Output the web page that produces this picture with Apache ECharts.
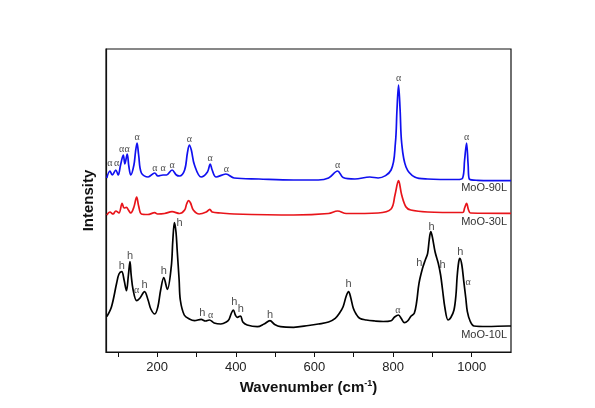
<!DOCTYPE html>
<html>
<head>
<meta charset="utf-8">
<script src="https://cdn.jsdelivr.net/npm/echarts@6/dist/echarts.min.js"></script>
<style>
  html, body { margin: 0; padding: 0; background: #fff; }
  #chart { width: 595px; height: 408px; }
</style>
</head>
<body>
<div id="chart"></div>
<script>
// x ticks / labels
const tickValues = [100, 200, 300, 400, 500, 600, 700, 800, 900, 1000]
const labelValues = [200, 400, 600, 800, 1000]

// [wavenumber, intensity]
const moo90 = [
  [72, 174], [80, 181], [86, 177], [95, 182], [101, 177], [107, 187], [114, 197], [118, 188],
  [124, 198], [128, 186], [133, 177], [141, 187], [145, 200], [149, 209], [153, 197], [160, 179],
  [177, 175], [194, 179], [202, 176], [215, 177], [224, 177], [238, 182], [249, 177], [257, 176],
  [270, 182], [277, 199], [282, 207], [287, 202], [295, 187], [312, 175], [328, 180], [335, 188],
  [340, 182], [350, 175], [375, 178], [396, 174], [459, 173], [547, 172], [610, 172], [636, 174],
  [659, 181], [673, 174.5], [703, 173], [741, 175], [762, 174], [795, 182], [806, 209], [810, 242],
  [814, 267], [818, 242], [822, 209], [833, 185], [855, 175], [888, 173], [964, 172.5], [977, 174],
  [982, 192], [987, 209], [991, 187], [994, 173], [1015, 171.7], [1093, 171.3], [1100, 171.3]
]
const moo30 = [
  [72, 137], [80, 140], [88, 138], [95, 141], [103, 139], [111, 148.7], [116, 144], [122, 144.7],
  [127, 142], [133, 139], [141, 145], [148, 155], [153, 146], [160, 138], [176, 137.5], [194, 139.3],
  [201, 138], [219, 138.5], [238, 140.3], [257, 138.5], [270, 142], [275, 148], [280, 151.3],
  [285, 149], [292, 142], [307, 138], [325, 140], [334, 142.7], [340, 140], [362, 139], [396, 138],
  [547, 137], [636, 138.5], [659, 141], [681, 138.5], [762, 139], [795, 143], [805, 157], [814, 171.3],
  [822, 157], [833, 145], [845, 142], [888, 140], [977, 139.5], [982, 144], [987, 148.7], [992, 142],
  [997, 139], [1093, 138.7], [1100, 138.7]
]
const moo10 = [
  [72, 35.3], [84, 45.3], [97, 68.7], [103, 78], [110, 80.3], [116, 72], [122, 61.3], [127, 77],
  [131, 90.3], [134, 77], [139, 62], [148, 51.3], [156, 53.7], [168, 60.3], [177, 52], [184, 43],
  [194, 38], [202, 45.3], [209, 62], [217, 74.3], [226, 62.7], [236, 85.3], [240, 112], [244, 129.3],
  [248, 120], [251, 102], [256, 72], [259, 52], [269, 37], [282, 33], [295, 31.3], [312, 32.7],
  [323, 31], [333, 32], [345, 29], [362, 28], [376, 30], [383, 32.7], [389, 39], [394, 42], [399, 37],
  [404, 34.7], [412, 36], [418, 30], [429, 27], [455, 25.3], [472, 28], [487, 31.3], [499, 27.5],
  [514, 25.3], [547, 24.7], [585, 26.5], [610, 28], [636, 30], [653, 33.7], [664, 39], [673, 45.3],
  [681, 56], [687, 60.3], [692, 55], [699, 43.7], [706, 38], [715, 33.7], [732, 32], [754, 31],
  [775, 30.5], [795, 31.3], [804, 35], [814, 37], [821, 33.5], [829, 29.3], [837, 31], [846, 36],
  [854, 38.7], [860, 50], [866, 68.7], [875, 83.7], [882, 92], [888, 98.7], [892, 112], [896, 120.3],
  [900, 115], [907, 100], [915, 88.7], [921, 77], [926, 62], [932, 44], [940, 32], [947, 34.5],
  [955, 42], [960, 57], [963, 75.3], [967, 90], [970, 93.7], [975, 87], [980, 70.3], [985, 54],
  [989, 40.3], [996, 31], [1006, 26], [1039, 25.5], [1093, 26], [1100, 26]
]

// peak marks [wavenumber, intensity, text]
const peaks90 = [
  [80, 188.7, 'α'], [97, 188.7, 'α'], [110, 203, 'α'], [124, 203, 'α'], [149, 214.7, 'α'],
  [194, 183.7, 'α'], [215, 183.7, 'α'], [238, 187, 'α'], [282, 213, 'α'], [335, 193.7, 'α'],
  [376, 182.7, 'α'], [659, 187, 'α'], [814, 273.7, 'α'], [987, 214.3, 'α']
]
const peaks10 = [
  [110, 86, 'h'], [131, 96, 'h'], [148, 61.3, 'α'], [168, 67, 'h'], [217, 81, 'h'], [257, 129.3, 'h'],
  [315, 38.7, 'h'], [336, 36.3, 'α'], [396, 50.3, 'h'], [413, 42.7, 'h'], [487, 36.7, 'h'],
  [687, 68, 'h'], [812, 42, 'α'], [867, 88.7, 'h'], [898, 125.3, 'h'], [926, 87, 'h'],
  [971, 100.3, 'h'], [991, 69.7, 'α']
]

const sampleNames = ['MoO-90L', 'MoO-30L', 'MoO-10L']

function markItems(list) {
  return list.map(p => ({
    value: [p[0], p[1]],
    label: {
      formatter: p[2],
      fontFamily: p[2] === 'h' ? 'Liberation Sans' : 'Liberation Serif',
      fontSize: p[2] === 'h' ? 11 : 10
    }
  }))
}

function lineSeries(name, data, color) {
  return {
    name, type: 'line', data, smooth: 0.35, symbol: 'none',
    lineStyle: { color, width: 1.7 }, z: 3
  }
}

function markSeries(list) {
  return {
    type: 'scatter', data: markItems(list), symbolSize: 0, silent: true,
    label: { show: true, position: 'inside', color: '#222' }, z: 4
  }
}

const chart = echarts.init(document.getElementById('chart'))
chart.setOption({
  backgroundColor: '#fff',
  animation: false,
  grid: { left: 106, right: 84, top: 49, bottom: 56 },
  xAxis: {
    type: 'value', min: 70, max: 1100,
    name: '{b|Wavenumber (cm}{s|-1}{b|)}',
    nameLocation: 'middle', nameGap: 26,
    nameTextStyle: {
      rich: {
        b: { fontFamily: 'Liberation Sans', fontWeight: 'bold', fontSize: 15, color: '#111' },
        s: { fontFamily: 'Liberation Sans', fontWeight: 'bold', fontSize: 9, color: '#111', verticalAlign: 'top', padding: [0, 0, 8, 0] }
      }
    },
    axisLine: { show: true, lineStyle: { color: '#111', width: 1.2 } },
    axisTick: { show: true, customValues: tickValues, length: 5, lineStyle: { color: '#111' } },
    axisLabel: {
      customValues: labelValues, formatter: v => String(v),
      fontFamily: 'Liberation Sans', fontSize: 13, color: '#222', margin: 9
    },
    splitLine: { show: false }
  },
  yAxis: {
    type: 'value', min: 0, max: 303,
    name: 'Intensity', nameLocation: 'middle', nameGap: 10,
    nameTextStyle: { fontFamily: 'Liberation Sans', fontWeight: 'bold', fontSize: 15, color: '#111' },
    axisLine: { show: true, lineStyle: { color: '#111', width: 1.2 } },
    axisTick: { show: false }, axisLabel: { show: false }, splitLine: { show: false }
  },
  graphic: [
    { type: 'rect', shape: { x: 106, y: 49, width: 405, height: 303 }, style: { fill: 'none', stroke: '#111', lineWidth: 1.2 }, silent: true },
    { type: 'text', right: 88, top: 182, style: { text: sampleNames[0], font: '11px Liberation Sans', fill: '#333' } },
    { type: 'text', right: 88, top: 216, style: { text: sampleNames[1], font: '11px Liberation Sans', fill: '#333' } },
    { type: 'text', right: 88, top: 329, style: { text: sampleNames[2], font: '11px Liberation Sans', fill: '#333' } }
  ],
  series: [
    lineSeries(sampleNames[2], moo10, '#000'),
    lineSeries(sampleNames[1], moo30, '#e8141a'),
    lineSeries(sampleNames[0], moo90, '#1010f0'),
    markSeries(peaks90),
    markSeries(peaks10)
  ]
})
</script>
</body>
</html>
